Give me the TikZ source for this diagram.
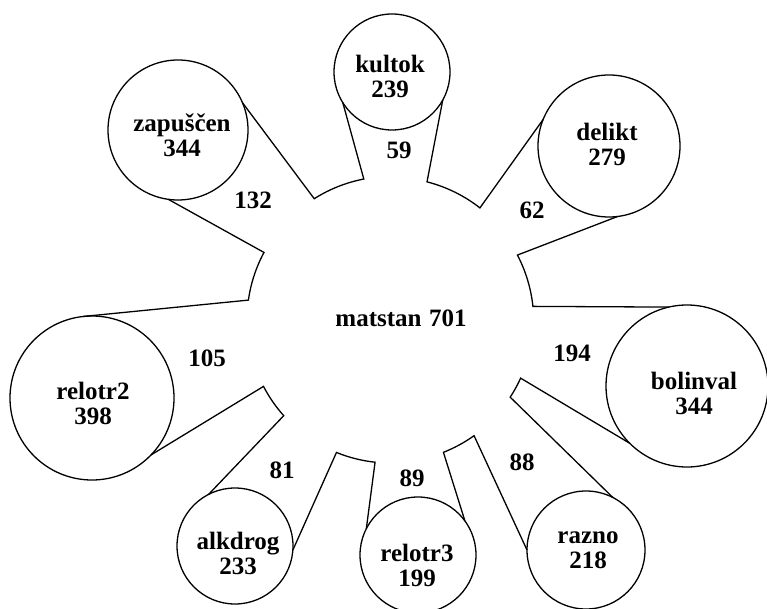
\documentclass[tikz,border=0pt]{standalone}
\usepackage{fontspec}
\setmainfont{Liberation Serif}
\begin{document}
\begin{tikzpicture}[x=1pt,y=1pt,
  every node/.style={font=\fontsize{25}{25}\selectfont\bfseries, outer sep=0pt},
  sat/.style={circle, draw, line width=1.3pt, inner sep=0pt, minimum size=#1},
  lab/.style={align=center, inner sep=0pt},
  num/.style={inner sep=0pt},
  edge/.style={line width=1.3pt, line join=miter}]
\fill[white] (0,0) rectangle (767,608);
\useasboundingbox (0,0) rectangle (767,608);

% hub
\node[circle, minimum size=286pt, inner sep=0pt,
      label={[lab,shift={(11,1.5)}]center:matstan\hspace{0.3em}701}] (m) at (390,288) {};

% satellites
\node[sat=116pt, label={[lab,shift={(-2,-4)}]center:{kultok\\239}}] (kultok) at (392,536) {};
\node[sat=140pt, label={[lab,shift={(4,-5)}]center:{zapuščen\\344}}] (zap) at (178,478) {};
\node[sat=142pt, label={[lab,shift={(-2,2)}]center:{delikt\\279}}] (delikt) at (609,462) {};
\node[sat=162pt, label={[lab,shift={(7,-7)}]center:{bolinval\\344}}] (bolinval) at (687,222) {};
\node[sat=118pt, label={[lab,shift={(2,0)}]center:{razno\\218}}] (razno) at (586,58) {};
\node[sat=116pt, label={[lab,shift={(-1,-10)}]center:{relotr3\\199}}] (relotr3) at (418,53) {};
\node[sat=116pt, label={[lab,shift={(3,-7)}]center:{alkdrog\\233}}] (alkdrog) at (235,62) {};
\node[sat=164pt, label={[lab,shift={(1,-5)}]center:{relotr2\\398}}] (relotr2) at (92,210) {};

% funnels
\draw[edge] (zap.23.3) -- (m.122.4) arc[start angle=122.4, end angle=100.9, radius=143pt] -- (kultok.-148);
\draw[edge] (kultok.-29) -- (m.75.7) arc[start angle=75.7, end angle=51.9, radius=143pt] -- (delikt.158.8);
\draw[edge] (delikt.-83.4) -- (m.27.6) arc[start angle=27.6, end angle=6.0, radius=143pt] -- (bolinval.103);
\draw[edge] (bolinval.-135) -- (m.-24.4) arc[start angle=-24.4, end angle=-33.1, radius=143pt] -- (razno.63.9);
\draw[edge] (razno.180) -- (m.-54.5) arc[start angle=-54.5, end angle=-68.5, radius=143pt] -- (relotr3.36.5);
\draw[edge] (relotr3.153) -- (m.-96.2) arc[start angle=-96.2, end angle=-112.2, radius=143pt] -- (alkdrog.-4);
\draw[edge] (alkdrog.117.8) -- (m.-138.2) arc[start angle=-138.2, end angle=-152.5, radius=143pt] -- (relotr2.-44);
\draw[edge] (relotr2.96.3) -- (m.172) arc[start angle=172, end angle=151.8, radius=143pt] -- (zap.-98.9);

% funnel numbers
\node[num] (n59) at (399,458) {59};
\node[num] (n132) at (253,408) {132};
\node[num] (n62) at (532,398) {62};
\node[num] (n194) at (572,255) {194};
\node[num] (n88) at (522,146) {88};
\node[num] (n89) at (412,130) {89};
\node[num] (n81) at (282,138) {81};
\node[num] (n105) at (207,250) {105};
\end{tikzpicture}
\end{document}
